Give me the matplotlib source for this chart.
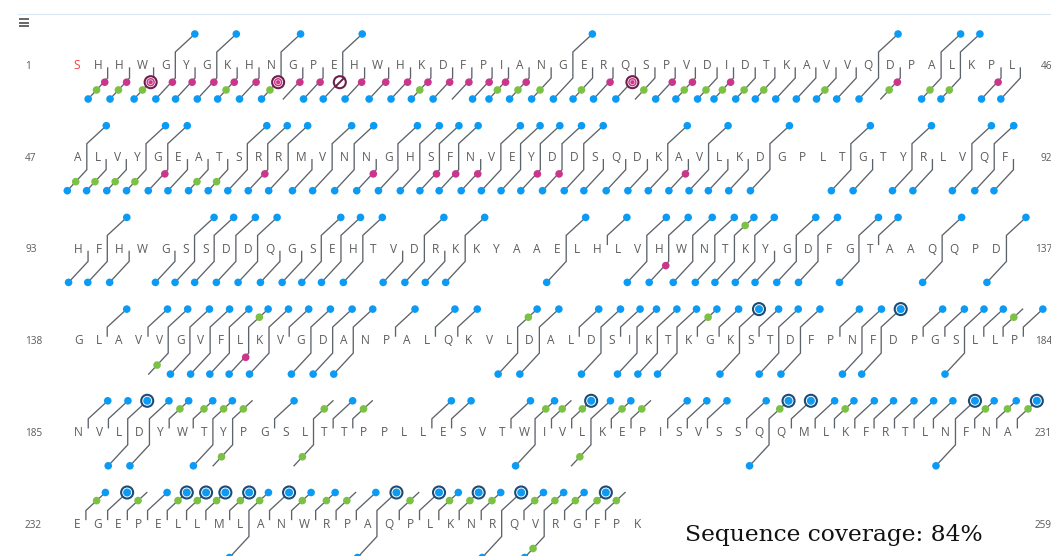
import matplotlib
matplotlib.use('Agg')
import matplotlib.pyplot as plt
from matplotlib import font_manager
from matplotlib.ft2font import FT2Font
from matplotlib.patches import Circle

# protein sequence, one string per displayed row
rows = [
    'SHHWGYGKHNGPEHWHKDFPIANGERQSPVDIDTKAVVQDPALKPL',
    'ALVYGEATSRRMVNNGHSFNVEYDDSQDKAVLKDGPLTGTYRLVQF',
    'HFHWGSSDDQGSEHTVDRKKYAAELHLVHWNTKYGDFGTAAQQPD',
    'GLAVVGVFLKVGDANPALQKVLDALDSIKTKGKSTDFPNFDPGSLLP',
    'NVLDYWTYPGSLTTPPLLESVTWIVLKEPISVSSQQMLKFRTLNFNA',
    'EGEPELLMLANWRPAQPLKNRQVRGFPK',
]

# fragment evidence, by cleavage site (site n = bond after residue n)
top_blue = [5, 7, 10, 13, 24, 39, 42, 43,
            47, 50, 51, 55, 56, 57, 59, 60, 62, 63, 64, 65, 67, 68, 69, 70, 71, 75, 77, 80, 84, 87, 90, 91,
            94, 98, 99, 100, 101, 104, 105, 106, 109, 111, 116, 118, 120, 121, 122, 123, 124, 125, 127,
            128, 130, 131, 134, 137,
            139, 141, 142, 143, 144, 145, 146, 147, 148, 149, 150, 151, 153, 155, 156, 159, 160, 162, 163,
            164, 165, 166, 167, 168, 169, 171, 172, 173, 175, 176, 179, 180, 181, 182, 184,
            185, 186, 188, 189, 190, 191, 194, 197, 202, 203, 206, 207, 210, 211, 214, 215, 216, 218, 221,
            222, 223, 224, 225, 226, 227, 229, 230,
            232, 235, 240, 242, 243, 245, 249, 251, 253, 254, 255]
top_ringed = [170, 177, 187, 209, 219, 220, 228, 231,
              233, 236, 237, 238, 239, 241, 246, 248, 250, 252, 256]
top_green = [124, 146, 159, 168, 183,
             189, 190, 191, 192, 196, 198, 207, 208, 209, 211, 212, 219, 222, 229, 230, 231,
             232, 234, 236, 237, 238, 239, 240, 242, 243, 244, 247, 249, 250, 251, 253, 254, 255, 256, 257]

bottom_blue = [2, 3, 4, 5, 6, 7, 8, 9, 10, 12, 13, 14, 15, 16, 17, 18, 20, 21, 22, 23, 24, 25, 26, 27,
               29, 30, 31, 32, 33, 34, 35, 36, 37, 38, 39, 42, 43, 45, 46,
               47, 48, 49, 50, 51, 52, 53, 54, 55, 56, 57, 58, 59, 60, 61, 62, 63, 64, 65, 66, 67, 68, 69,
               70, 71, 72, 73, 74, 75, 76, 77, 78, 79, 80, 84, 85, 87, 88, 90, 91, 92,
               93, 94, 95, 97, 98, 99, 100, 101, 102, 103, 104, 105, 106, 108, 109, 110, 111, 116, 120,
               121, 122, 123, 124, 125, 126, 127, 128, 130, 134, 137,
               143, 144, 145, 146, 147, 149, 150, 151, 159, 160, 163, 165, 166, 167, 170, 172, 173, 176,
               177, 181,
               187, 188, 191, 207, 219, 228,
               240, 246, 252, 254]
bottom_green = [2, 3, 4, 8, 10, 17, 21, 22, 23, 25, 28, 30, 31, 32, 33, 34, 37, 40, 42, 43,
                47, 48, 49, 50, 53, 54, 142, 192, 196, 210, 254]
bottom_pink = [2, 3, 5, 6, 7, 8, 9, 11, 12, 14, 15, 16, 17, 18, 19, 20, 21, 22, 26, 29, 30, 32, 40, 45,
               51, 56, 61, 64, 65, 66, 69, 70, 76, 121, 146]
pink_ringed = [4, 10, 27]
pink_crossed = [13]

coverage_text = 'Sequence coverage: 84%'

BLUE = '#0b9bf4'
GREEN = '#7bc143'
PINK = '#c9368b'
NAVY = '#1d4b73'
MAROON = '#6c1f48'
LINE = '#5d636a'
LETTER = '#5c5c5c'

W, H = 1051, 556
fig = plt.figure(figsize=(W / 100, H / 100), dpi=100)
ax = fig.add_axes([0, 0, 1, 1])
ax.set_xlim(0, W)
ax.set_ylim(H, 0)
ax.axis('off')

LETTER_PT = 8.6
PAD = 13.1
X0 = 67.2
ROW_Y = [65 + 91.7 * r for r in range(len(rows))]

try:
    ft = FT2Font(font_manager.findfont(font_manager.FontProperties(family='Open Sans')))
    ft.set_size(LETTER_PT, 100)

    def advance(ch):
        return ft.load_char(ord(ch)).linearHoriAdvance / 65536.0
except Exception:
    def advance(ch):
        return 8.0

# lay out the residues like the web view: cell = glyph advance + padding
centers = {}
cut_x = {}
n = 1
for r, seq in enumerate(rows):
    x = X0
    for ch in seq:
        w = advance(ch) + PAD
        centers[n] = (x + w / 2, ROW_Y[r])
        cut_x[n] = x + w - 1
        x += w
        n += 1
last = n - 1

# header bits
ax.plot([18, W], [14.3, 14.3], color='#d9e7f3', lw=0.8)
for yy in (19.2, 22.5, 25.8):
    ax.plot([19, 29.3], [yy, yy], color='#5a5a5a', lw=1.3, solid_capstyle='butt')

# residues and row numbers
start = 1
for r, seq in enumerate(rows):
    for k, ch in enumerate(seq):
        cx, cy = centers[start + k]
        ax.text(cx, cy + 4.3, ch, ha='center', va='baseline', fontsize=LETTER_PT,
                family='Open Sans', color='#ff3b3b' if start + k == 1 else LETTER, zorder=2)
    ax.text(25, ROW_Y[r] + 4.0, str(start), ha='left', va='baseline', fontsize=7.2,
            family='Open Sans', color='#5a5a5a')
    ax.text(1052, ROW_Y[r] + 4.0, str(start + len(seq) - 1), ha='right', va='baseline',
            fontsize=7.2, family='Open Sans', color='#5a5a5a')
    start += len(seq)


def dot(x, y, color, r=3.8):
    ax.add_patch(Circle((x, y), r, facecolor=color, edgecolor='none', zorder=4))


def ring(x, y, color):
    ax.add_patch(Circle((x, y), 6.0, facecolor='white', edgecolor=color, lw=1.5, zorder=4))


sets = {k: set(v) for k, v in dict(tb=top_blue, tr=top_ringed, tg=top_green, bb=bottom_blue,
                                    bg=bottom_green, bp=bottom_pink, pr=pink_ringed,
                                    px=pink_crossed).items()}
DX = 19.5
LW = 0.95
for n in range(1, last + 1):
    x = cut_x[n]
    y = centers[n][1]
    top = n in sets['tb'] or n in sets['tr'] or n in sets['tg']
    bot = any(n in sets[k] for k in ('bb', 'bg', 'bp', 'pr', 'px'))
    if not (top or bot):
        continue
    xs, ys = [], []
    if top:
        xs += [x + DX, x]
        ys += [y - 31, y - 13]
    else:
        xs.append(x)
        ys.append(y + 3)
    if bot:
        xs += [x, x - DX]
        ys += [y + 13, y + 34]
    else:
        xs.append(x)
        ys.append(y - 4)
    ax.plot(xs, ys, color=LINE, lw=LW, solid_joinstyle='miter', zorder=1)

    if top:
        if n in sets['tg']:
            dot(x + 0.55 * DX, y - 13 - 0.55 * 18, GREEN)
        if n in sets['tr']:
            ring(x + DX, y - 31, NAVY)
            dot(x + DX, y - 31, BLUE, 4.0)
        elif n in sets['tb']:
            dot(x + DX, y - 31, BLUE)
    if bot:
        if n in sets['bb']:
            dot(x - DX, y + 34, BLUE)
        if n in sets['bg']:
            dot(x - 0.57 * DX, y + 13 + 0.57 * 21, GREEN)
        px_, py_ = x - 0.15 * DX, y + 13 + 0.2 * 21
        if n in sets['pr']:
            ring(px_, py_, MAROON)
            dot(px_, py_, PINK, 4.2)
            ax.add_patch(Circle((px_, py_), 2.4, facecolor='none', edgecolor='#f2b9d8',
                                lw=0.6, zorder=5))
        elif n in sets['px']:
            ring(px_, py_, MAROON)
            ax.plot([px_ - 4.3, px_ + 4.3], [py_ + 4.3, py_ - 4.3], color=MAROON, lw=1.4, zorder=5)
        elif n in sets['bp']:
            dot(px_, py_, PINK)

ax.text(685, 540.6, coverage_text, ha='left', va='baseline', fontsize=16.8,
        family='DejaVu Serif', color='#111111')

fig.savefig('out.png', dpi=100)
